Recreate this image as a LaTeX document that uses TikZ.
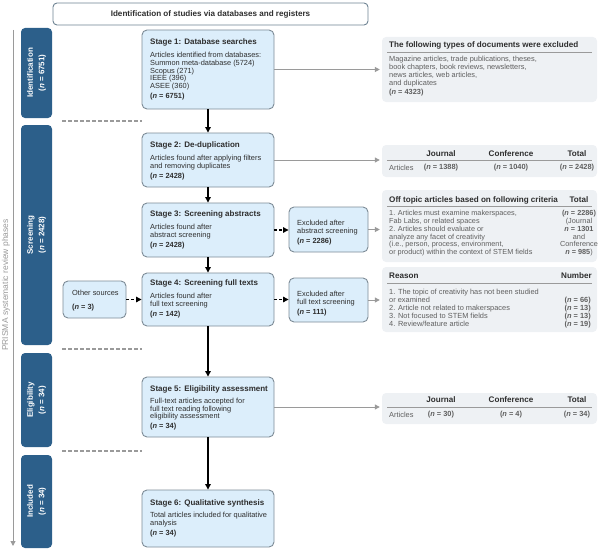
\documentclass[tikz,border=0pt]{standalone}
\usepackage{fontspec}
\setmainfont{Liberation Sans}
\usetikzlibrary{arrows.meta}
\definecolor{phase}{HTML}{2C5F8A}
\definecolor{stagefill}{HTML}{DCEEFB}
\definecolor{stageline}{HTML}{7D8B96}
\definecolor{greyfill}{HTML}{EEF1F4}
\definecolor{greyline}{HTML}{9A9A9A}
\definecolor{txt}{HTML}{2E2E2E}
\definecolor{subtxt}{HTML}{5F5F5F}
\definecolor{headline}{HTML}{6E8393}
\newcommand\stgtitle[1]{{\fontsize{8}{7.8}\selectfont\bfseries #1}}
\newcommand\nval[1]{\textbf{(\textit{n} = #1)}}
\tikzset{
  stagebox/.style={draw=stageline, fill=stagefill, rounded corners=5pt, line width=0.9pt, inner sep=0pt},
  phasebox/.style={fill=phase, rounded corners=4pt, inner sep=0pt},
  greybox/.style={fill=greyfill, rounded corners=4pt, inner sep=0pt},
  txtblock/.style={anchor=north west, inner sep=0pt, align=left, font=\fontsize{7.4}{7.8}\selectfont, text=txt},
  greytxt/.style={inner sep=0pt, font=\fontsize{7.4}{8}\selectfont, text=subtxt},
  greyhead/.style={inner sep=0pt, font=\fontsize{8.1}{8}\selectfont\bfseries, text=txt},
  phasetxt/.style={rotate=90, align=center, text=white, inner sep=0pt, font=\fontsize{8}{11.5}\selectfont\bfseries},
  mainarrow/.style={-{Triangle[length=5.5pt,width=5.5pt]}, line width=1.1pt, black},
  dasharrow/.style={mainarrow, dash pattern=on 3pt off 2pt},
  greyarrow/.style={-{Triangle[length=5pt,width=5pt]}, line width=1pt, greyline, shorten >=2pt},
  rulestyle/.style={line width=0.9pt, draw=greyline},
  sepline/.style={line width=1.1pt, draw=greyline, dash pattern=on 4pt off 2pt}
}
\begin{document}
\begin{tikzpicture}[x=1pt,y=-1pt]
\useasboundingbox (0,0) rectangle (600,551);

% header
\node[draw=headline, fill=white, rounded corners=4pt, line width=0.9pt, minimum width=315, minimum height=22, inner sep=0pt,
      font=\fontsize{8.1}{8}\selectfont\bfseries, text=txt] (hdr) at (210.5,14) {Identification of studies via databases and registers};

% left phase axis
\coordinate (vtop) at (13,30);
\coordinate (vbot) at (13,546);
\draw[greyarrow, shorten >=0pt] (vtop) -- (vbot);
\node[rotate=90, inner sep=0pt, font=\fontsize{8.5}{8}\selectfont, text=greyline] (axislbl) at (6,285) {PRISMA systematic review phases};

% phase boxes
\node[phasebox, minimum width=31, minimum height=90] (ph1) at (36.5,73) {};
\node[phasetxt] (ph1t) at (ph1) {Identification\\(\textit{n} = 6751)};
\node[phasebox, minimum width=31, minimum height=220] (ph2) at (36.5,235) {};
\node[phasetxt] (ph2t) at (ph2) {Screening\\(\textit{n} = 2428)};
\node[phasebox, minimum width=31, minimum height=94] (ph3) at (36.5,400) {};
\node[phasetxt] (ph3t) at (ph3) {Eligibility\\(\textit{n} = 34)};
\node[phasebox, minimum width=31, minimum height=93] (ph4) at (36.5,501.5) {};
\node[phasetxt] (ph4t) at (ph4) {Included\\(\textit{n} = 34)};

% separators
\coordinate (sepa1) at (62,121); \coordinate (sepb1) at (142,121);
\coordinate (sepa2) at (62,349); \coordinate (sepb2) at (142,349);
\coordinate (sepa3) at (62,451); \coordinate (sepb3) at (142,451);
\draw[sepline] (sepa1) -- (sepb1);
\draw[sepline] (sepa2) -- (sepb2);
\draw[sepline] (sepa3) -- (sepb3);

% stage boxes
\node[stagebox, minimum width=132, minimum height=79] (s1) at (208,69.5) {};
\node[stagebox, minimum width=132, minimum height=54] (s2) at (208,160) {};
\node[stagebox, minimum width=132, minimum height=54] (s3) at (208,230) {};
\node[stagebox, minimum width=132, minimum height=53] (s4) at (208,299.5) {};
\node[stagebox, minimum width=132, minimum height=60] (s5) at (208,407) {};
\node[stagebox, minimum width=132, minimum height=57] (s6) at (208,518.5) {};

\node[txtblock] (s1t) at (150,39) {\stgtitle{Stage 1: Database searches}\\[4.8pt]
Articles identified from databases:\\
Summon meta-database (5724)\\
Scopus (271)\\
IEEE (396)\\
ASEE (360)\\[2.2pt]
\nval{6751}};
\node[txtblock] (s2t) at (150,142) {\stgtitle{Stage 2: De-duplication}\\[4.5pt]
Articles found after applying filters\\
and removing duplicates\\[3pt]
\nval{2428}};
\node[txtblock] (s3t) at (150,211) {\stgtitle{Stage 3: Screening abstracts}\\[4.5pt]
Articles found after\\
abstract screening\\[3pt]
\nval{2428}};
\node[txtblock] (s4t) at (150,280) {\stgtitle{Stage 4: Screening full texts}\\[4.5pt]
Articles found after\\
full text screening\\[3pt]
\nval{142}};
\node[txtblock] (s5t) at (150,385) {\stgtitle{Stage 5: Eligibility assessment}\\[4.5pt]
Full-text articles accepted for\\
full text reading following\\
eligibility assessment\\[1.5pt]
\nval{34}};
\node[txtblock] (s6t) at (150,499) {\stgtitle{Stage 6: Qualitative synthesis}\\[4.5pt]
Total articles included for qualitative\\
analysis\\[3pt]
\nval{34}};

% side boxes
\node[stagebox, minimum width=63, minimum height=37] (oth) at (94.5,299.5) {};
\node[txtblock] (otht) at (72,290) {Other sources\\[6pt] \nval{3}};
\node[stagebox, minimum width=79, minimum height=45] (exa) at (328.5,229.5) {};
\node[txtblock] (exat) at (297,220.3) {Excluded after\\ abstract screening\\[2.2pt] \nval{2286}};
\node[stagebox, minimum width=79, minimum height=44] (exf) at (328.5,300) {};
\node[txtblock] (exft) at (297,290.8) {Excluded after\\ full text screening\\[2.2pt] \nval{111}};

% grey boxes
\node[greybox, minimum width=215, minimum height=65] (ga) at (489.5,69.5) {};
\node[greybox, minimum width=215, minimum height=32] (gb) at (489.5,161) {};
\node[greybox, minimum width=215, minimum height=72] (gc) at (489.5,226) {};
\node[greybox, minimum width=215, minimum height=65] (gd) at (489.5,299.5) {};
\node[greybox, minimum width=215, minimum height=31] (ge) at (489.5,408.5) {};

% box A
\node[greyhead, anchor=west] (gat) at (389,45) {The following types of documents were excluded};
\draw[rulestyle] (387,52) -- (592,52);
\node[greytxt, anchor=north west, align=left] (gab) at (389,56.3) {Magazine articles, trade publications, theses,\\
book chapters, book reviews, newsletters,\\
news articles, web articles,\\
and duplicates\\[1pt]
\nval{4323}};

% box B
\node[greyhead] (gbh1) at (441,154) {Journal};
\node[greyhead] (gbh2) at (511,154) {Conference};
\node[greyhead] (gbh3) at (577,154) {Total};
\draw[rulestyle] (387,160) -- (592,160);
\node[greytxt, anchor=west] (gbr) at (389,167.5) {Articles};
\node[greytxt] (gbv1) at (441,167.5) {\nval{1388}};
\node[greytxt] (gbv2) at (511,167.5) {\nval{1040}};
\node[greytxt] (gbv3) at (577,167.5) {\nval{2428}};

% box C
\node[greyhead, anchor=west] (gct) at (389,200) {Off topic articles based on following criteria};
\node[greyhead] (gct2) at (579,200) {Total};
\draw[rulestyle] (387,206) -- (592,206);
\node[greytxt, anchor=north west, align=left, font=\fontsize{7.3}{7.8}\selectfont] (gcb) at (389,210.3) {1. Articles must examine makerspaces,\\
Fab Labs, or related spaces\\
2. Articles should evaluate or\\
analyze any facet of creativity\\
(i.e., person, process, environment,\\
or product) within the context of STEM fields};
\node[greytxt, anchor=north, align=center, font=\fontsize{7.3}{7.8}\selectfont] (gcr) at (579,210.3) {\nval{2286}\\
(Journal\\
\textbf{\textit{n} = 1301}\\
and\\
Conference\\
\textbf{\textit{n} = 985})};

% box D
\node[greyhead, anchor=west] (gdt) at (389,276) {Reason};
\node[greyhead, anchor=east] (gdt2) at (592,276) {Number};
\draw[rulestyle] (387,283) -- (592,283);
\node[greytxt, anchor=north west, align=left] (gdb) at (389,289.3) {1. The topic of creativity has not been studied\\
or examined\\
2. Article not related to makerspaces\\
3. Not focused to STEM fields\\
4. Review/feature article};
\node[greytxt, anchor=north east, align=right] (gdr) at (591,297.3) {\nval{66}\\ \nval{13}\\ \nval{13}\\ \nval{19}};

% box E
\node[greyhead] (geh1) at (441,400) {Journal};
\node[greyhead] (geh2) at (511,400) {Conference};
\node[greyhead] (geh3) at (577,400) {Total};
\draw[rulestyle] (387,407) -- (592,407);
\node[greytxt, anchor=west] (ger) at (389,415) {Articles};
\node[greytxt] (gev1) at (441,415) {\nval{30}};
\node[greytxt] (gev2) at (511,415) {\nval{4}};
\node[greytxt] (gev3) at (577,415) {\nval{34}};

% main flow
\draw[mainarrow] (s1) -- (s2);
\draw[mainarrow] (s2) -- (s3);
\draw[mainarrow] (s3) -- (s4);
\draw[mainarrow] (s4) -- (s5);
\draw[mainarrow] (s5) -- (s6);

% dashed
\draw[dasharrow] (s3.east) -- (exa.west |- s3.east);
\draw[dasharrow] (s4.east) -- (exf.west |- s4.east);
\draw[dasharrow] (oth.east) -- (s4.west |- oth.east);

% grey arrows
\draw[greyarrow] (s1.east) -- (ga.west |- s1.east);
\draw[greyarrow] (s2.east) -- (gb.west |- s2.east);
\draw[greyarrow] (exa.east) -- (gc.west |- exa.east);
\draw[greyarrow] (exf.east) -- (gd.west |- exf.east);
\draw[greyarrow] (s5.east) -- (ge.west |- s5.east);
\end{tikzpicture}
\end{document}
